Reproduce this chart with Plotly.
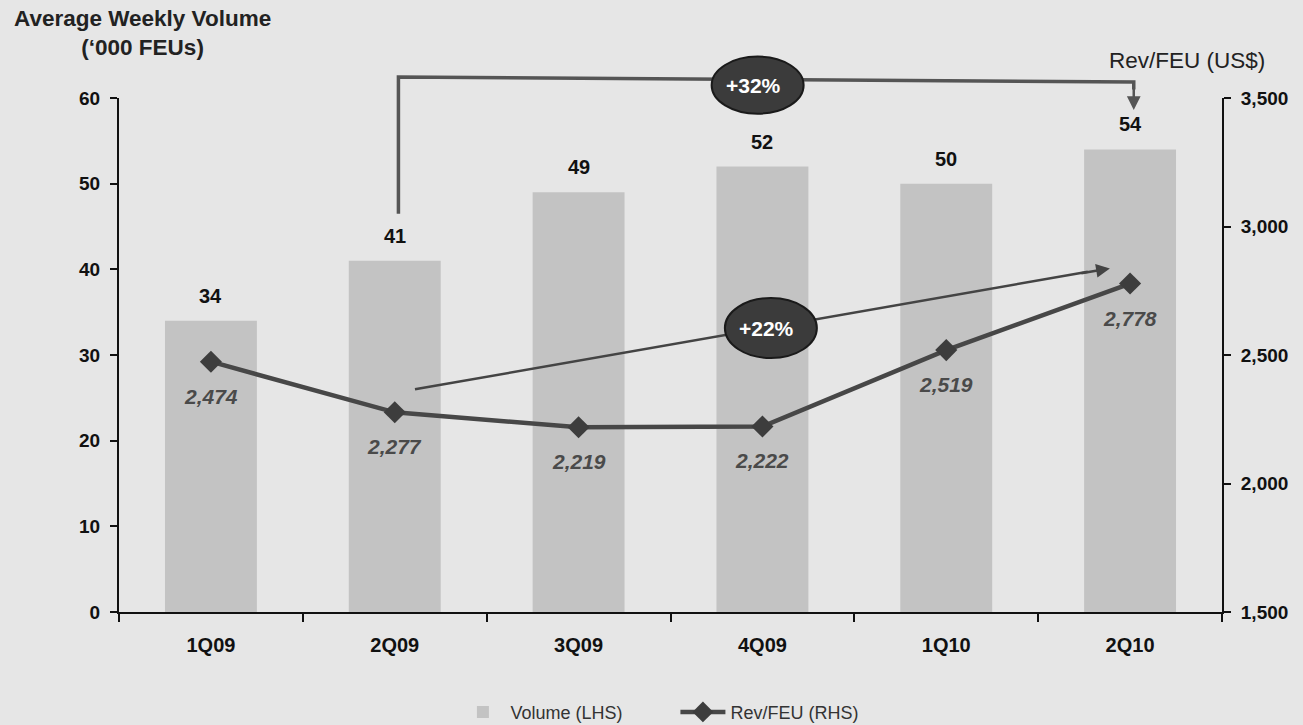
import plotly.graph_objects as go

# Quarterly volume and revenue per FEU
quarters = ["1Q09", "2Q09", "3Q09", "4Q09", "1Q10", "2Q10"]
volume = [34, 41, 49, 52, 50, 54]                    # average weekly volume, '000 FEUs
rev_feu = [2474, 2277, 2219, 2222, 2519, 2778]       # revenue per FEU, US$
vol_ticks = [0, 10, 20, 30, 40, 50, 60]
rev_ticks = [1500, 2000, 2500, 3000, 3500]

FONT = "Arial, Liberation Sans, sans-serif"
BG = "#e6e6e6"
BAR = "#c3c3c3"
LINE = "#474747"
DARK = "#3d3d3d"

VOL_MAX = vol_ticks[-1]
N = len(quarters)


def xp(idx):
    """Category index -> paper x."""
    return (idx + 0.5) / N


def yp(v):
    """Left-axis value -> paper y."""
    return v / VOL_MAX


fig = go.Figure()

fig.add_trace(go.Bar(
    x=quarters, y=volume, name="Volume (LHS)",
    marker=dict(color=BAR, line=dict(width=0)), width=0.5,
))
fig.add_trace(go.Scatter(
    x=quarters, y=rev_feu, name="Rev/FEU (RHS)", yaxis="y2",
    mode="lines+markers",
    line=dict(color=LINE, width=4.5),
    marker=dict(symbol="diamond", size=17, color=DARK),
))

annotations = []
# volume labels above the bars
for q, v in zip(quarters, volume):
    annotations.append(dict(
        x=q, y=v, xref="x", yref="y", text=str(v), showarrow=False,
        yanchor="bottom", yshift=12,
        font=dict(family=FONT, size=20, color="#111", weight="bold"),
    ))
# rev/FEU labels below the markers
for q, r in zip(quarters, rev_feu):
    annotations.append(dict(
        x=q, y=r, xref="x", yref="y2", text=f"{r:,}", showarrow=False,
        yanchor="top", yshift=-21,
        font=dict(family=FONT, size=21, color="#4a4a4a", style="italic", weight="bold"),
    ))

# axis titles
annotations.append(dict(
    x=0.021, y=1.126, xref="paper", yref="paper",
    text="Average Weekly Volume<br>(‘000 FEUs)", showarrow=False,
    xanchor="center", yanchor="middle",
    font=dict(family=FONT, size=22.5, color="#222", weight="bold"),
))
annotations.append(dict(
    x=0.968, y=1.072, xref="paper", yref="paper",
    text="Rev/FEU (US$)", showarrow=False,
    xanchor="center", yanchor="middle",
    font=dict(family=FONT, size=22.5, color="#222"),
))

shapes = []

# +32% volume bracket: 2Q09 -> 2Q10
b_x0, b_x1 = xp(1.02), xp(5.02)
b_bottom = yp(volume[1] + 5.5)
b_top = 1.041
b_tip = yp(volume[5] + 4.6)
shapes.append(dict(
    type="path", xref="paper", yref="paper",
    path=f"M {b_x0} {b_bottom} L {b_x0} {b_top} L {b_x1} {b_top - 0.01} L {b_x1} {b_tip + 0.04}",
    line=dict(color="#555", width=3.5),
))
annotations.append(dict(
    x=b_x1, y=b_tip, xref="paper", yref="paper", text="",
    showarrow=True, ax=0, ay=-24, arrowhead=2, arrowsize=1.1,
    arrowwidth=2.5, arrowcolor="#555",
))

# +22% rev/FEU arrow: 2Q09 -> 2Q10
a_x0, a_y0 = xp(1.11), yp(26.0)
a_x1, a_y1 = xp(4.89), yp(40.1)
shapes.append(dict(
    type="line", xref="paper", yref="paper",
    x0=a_x0, y0=a_y0, x1=a_x1 - 0.02, y1=a_y1 - 0.0065,
    line=dict(color="#444", width=2.5),
))
annotations.append(dict(
    x=a_x1, y=a_y1, xref="paper", yref="paper", text="",
    showarrow=True, ax=-30, ay=5, arrowhead=2, arrowsize=1.1,
    arrowwidth=2.5, arrowcolor="#444",
))

# growth badges
badges = [("+32%", 0.579, 1.025, 0.0555), ("+22%", 0.591, 0.5525, 0.0584)]
for label, cx, cy, hh in badges:
    shapes.append(dict(
        type="circle", xref="paper", yref="paper",
        x0=cx - 0.0417, x1=cx + 0.0417, y0=cy - hh, y1=cy + hh,
        fillcolor="#3b3b3b", line=dict(color="#1a1a1a", width=2),
    ))
    annotations.append(dict(
        x=cx - 0.004, y=cy, xref="paper", yref="paper", text=label,
        showarrow=False, xanchor="center", yanchor="middle",
        font=dict(family=FONT, size=21, color="white", weight="bold"),
    ))

fig.update_layout(
    width=1303, height=725,
    margin=dict(l=119, r=81, t=98, b=113, autoexpand=False),
    paper_bgcolor=BG, plot_bgcolor=BG,
    font=dict(family=FONT, color="#111"),
    bargap=0.5,
    showlegend=True,
    legend=dict(
        orientation="h", x=0.305, xanchor="left", y=-0.195, yanchor="middle",
        bgcolor="rgba(0,0,0,0)", font=dict(family=FONT, size=18, color="#333"),
        itemwidth=45, traceorder="normal",
        entrywidth=160, entrywidthmode="pixels",
    ),
    xaxis=dict(
        type="category", range=[-0.5, N - 0.5],
        showline=True, linecolor="#111", linewidth=2,
        ticks="outside", tickson="boundaries", ticklen=8, tickwidth=1.5, tickcolor="#111",
        ticklabelstandoff=14,
        tickfont=dict(family=FONT, size=20, color="#111", weight="bold"),
        showgrid=False, zeroline=False,
    ),
    yaxis=dict(
        range=[vol_ticks[0], vol_ticks[-1]], tickvals=vol_ticks,
        showline=True, linecolor="#111", linewidth=2,
        ticks="outside", ticklen=7, tickwidth=1.5, tickcolor="#111",
        ticklabelstandoff=6,
        tickfont=dict(family=FONT, size=19, color="#111", weight="bold"),
        showgrid=False, zeroline=False,
    ),
    yaxis2=dict(
        overlaying="y", side="right",
        range=[rev_ticks[0], rev_ticks[-1]], tickvals=rev_ticks, tickformat=",",
        showline=True, linecolor="#111", linewidth=2,
        ticks="outside", ticklen=7, tickwidth=1.5, tickcolor="#111",
        ticklabelstandoff=6,
        tickfont=dict(family=FONT, size=19, color="#111", weight="bold"),
        showgrid=False, zeroline=False,
    ),
    shapes=shapes,
    annotations=annotations,
)

fig.write_html("out.html")
